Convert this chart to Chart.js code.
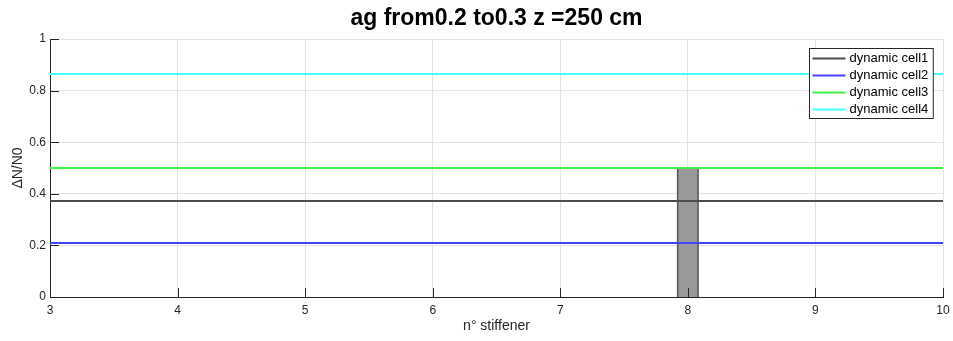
<!DOCTYPE html>
<html>
<head>
<meta charset="utf-8">
<script src="https://cdn.jsdelivr.net/npm/chart.js@4"></script>
<style>
html, body { margin: 0; padding: 0; background: #fff; }
#wrap { width: 953px; height: 341px; }
</style>
</head>
<body>
<div id="wrap"><canvas id="chart"></canvas></div>
<script>
// donnees
const seriesNames = ['dynamic cell1', 'dynamic cell2', 'dynamic cell3', 'dynamic cell4'];
const seriesLevels = [0.372, 0.209, 0.5, 0.864];
const seriesColors = ['#4d4d4d', '#4444ff', '#44ee44', '#44ffff'];
const xRange = [3, 10];
const barPositions = [8];
const barHeights = [0.5];
const barWidth = 0.16;
const yTicks = [0, 0.2, 0.4, 0.6, 0.8, 1];
const chartTitle = 'ag from0.2 to0.3 z =250 cm';

const FONT = 'Liberation Sans, Arial, Helvetica, sans-serif';
const AXIS = '#262626';

const lineSets = seriesNames.map((name, i) => ({
    type: 'line',
    label: name,
    data: xRange.map(x => ({ x: x, y: seriesLevels[i] })),
    borderColor: seriesColors[i],
    borderWidth: 2,
    pointRadius: 0,
    fill: false,
    order: 0
}));

// barre grise autour de x = 8
const barSets = barPositions.map((p, i) => ({
    type: 'line',
    label: '',
    data: [
        { x: p - barWidth / 2, y: 0 },
        { x: p - barWidth / 2, y: barHeights[i] },
        { x: p + barWidth / 2, y: barHeights[i] },
        { x: p + barWidth / 2, y: 0 }
    ],
    borderColor: '#555555',
    borderWidth: 1.5,
    backgroundColor: '#999999',
    pointRadius: 0,
    fill: 'origin',
    order: 10
}));

const matlabBits = {
    id: 'matlabBits',
    afterDraw(chart) {
        const ctx = chart.ctx;
        const a = chart.chartArea;
        const xs = chart.scales.x, ys = chart.scales.y;
        ctx.save();
        // titre centre sur la zone de trace
        ctx.font = 'bold 23px ' + FONT;
        ctx.fillStyle = '#000';
        ctx.textAlign = 'center';
        ctx.textBaseline = 'middle';
        ctx.fillText(chartTitle, (a.left + a.right) / 2, 19);
        ctx.textAlign = 'left';

        // ticks vers l'interieur
        ctx.strokeStyle = AXIS;
        ctx.lineWidth = 1;
        ctx.beginPath();
        for (let v = xRange[0]; v <= xRange[1]; v++) {
            const px = Math.round(xs.getPixelForValue(v)) + 0.5;
            ctx.moveTo(px, a.bottom);
            ctx.lineTo(px, a.bottom - 9);
        }
        yTicks.forEach(v => {
            const py = Math.round(ys.getPixelForValue(v)) + 0.5;
            ctx.moveTo(a.left, py);
            ctx.lineTo(a.left + 9, py);
        });
        ctx.stroke();

        // legende
        ctx.font = '13px ' + FONT;
        const textW = Math.max(...seriesNames.map(n => ctx.measureText(n).width));
        const rowH = 17;
        const w = 3 + 33 + 4 + textW + 5;
        const h = seriesNames.length * rowH + 2;
        const x0 = Math.round(a.right - 10 - w) + 0.5;
        const y0 = Math.round(a.top + 9) + 0.5;
        ctx.fillStyle = '#fff';
        ctx.fillRect(x0, y0, w, h);
        ctx.strokeStyle = AXIS;
        ctx.strokeRect(x0, y0, w, h);
        seriesNames.forEach((n, i) => {
            const cy = y0 + 10 + i * rowH;
            ctx.strokeStyle = seriesColors[i];
            ctx.lineWidth = 2;
            ctx.beginPath();
            ctx.moveTo(x0 + 3, cy);
            ctx.lineTo(x0 + 36, cy);
            ctx.stroke();
            ctx.fillStyle = '#000';
            ctx.fillText(n, x0 + 40, cy);
        });
        ctx.restore();
    }
};

new Chart(document.getElementById('chart'), {
    data: { datasets: barSets.concat(lineSets) },
    options: {
        responsive: true,
        maintainAspectRatio: false,
        animation: false,
        layout: { padding: { left: 0, right: 10, top: 39, bottom: 0 } },
        plugins: {
            legend: { display: false },
            tooltip: { enabled: false },
            title: { display: false }
        },
        scales: {
            x: {
                type: 'linear',
                min: xRange[0],
                max: xRange[1],
                afterFit: s => { s.height = 44; s.paddingRight = 0; s.paddingLeft = 0; },
                ticks: { stepSize: 1, color: AXIS, font: { family: FONT, size: 12 }, padding: 6 },
                grid: { color: '#e3e3e3', drawTicks: false },
                border: { display: true, color: AXIS, width: 1 },
                title: {
                    display: true,
                    text: 'n° stiffener',
                    color: AXIS,
                    font: { family: FONT, size: 14 },
                    padding: { top: 0, bottom: 6 }
                }
            },
            y: {
                type: 'linear',
                min: 0,
                max: 1,
                afterFit: s => { s.width = 50; },
                ticks: {
                    stepSize: 0.2,
                    color: AXIS,
                    font: { family: FONT, size: 12 },
                    padding: 4,
                    callback: v => String(Math.round(v * 10) / 10)
                },
                grid: { color: '#e3e3e3', drawTicks: false },
                border: { display: true, color: AXIS, width: 1 },
                title: {
                    display: true,
                    text: 'ΔN/N0',
                    color: AXIS,
                    font: { family: FONT, size: 14 },
                    padding: { top: 10, bottom: 0 }
                }
            }
        }
    },
    plugins: [matlabBits]
});
</script>
</body>
</html>
